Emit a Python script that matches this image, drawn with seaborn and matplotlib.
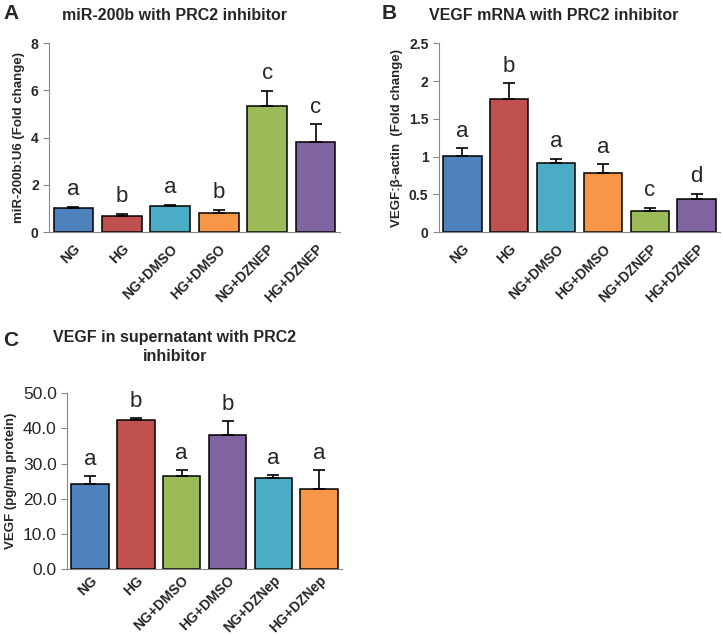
import numpy as np
import pandas as pd
import seaborn as sns
import matplotlib.pyplot as plt
from matplotlib.ticker import FixedLocator

sns.set_style('white')
plt.rcParams['font.family'] = ['Liberation Sans', 'DejaVu Sans']

# panel A: miR-200b
groups_ab = ['NG', 'HG', 'NG+DMSO', 'HG+DMSO', 'NG+DZNEP', 'HG+DZNEP']
mir_mean = [1.02, 0.69, 1.12, 0.80, 5.35, 3.83]
mir_err = [0.05, 0.08, 0.04, 0.14, 0.63, 0.73]
mir_letters = ['a', 'b', 'a', 'b', 'c', 'c']

# panel B: VEGF mRNA
vegf_mean = [1.01, 1.76, 0.91, 0.78, 0.28, 0.44]
vegf_err = [0.10, 0.21, 0.06, 0.12, 0.04, 0.065]
vegf_letters = ['a', 'b', 'a', 'a', 'c', 'd']

# panel C: VEGF protein in supernatant
groups_c = ['NG', 'HG', 'NG+DMSO', 'HG+DMSO', 'NG+DZNep', 'HG+DZNep']
sup_mean = [24.1, 42.3, 26.4, 38.2, 25.8, 22.9]
sup_err = [2.4, 0.6, 1.8, 3.9, 0.8, 5.2]
sup_letters = ['a', 'b', 'a', 'b', 'a', 'a']

blue, red, teal, orange, green, purple = '#4F81BD', '#C0504D', '#4BACC6', '#F79646', '#9BBB59', '#8064A2'
pal_ab = [blue, red, teal, orange, green, purple]
pal_c = [blue, red, green, purple, teal, orange]


def panel(ax, groups, means, errs, letters, pal, ymax, ystep, ylabel,
          tick_bold=True, fmt=None, xpad=7):
    df = pd.DataFrame({'group': groups, 'value': means})
    sns.barplot(data=df, x='group', y='value', hue='group', palette=pal,
                saturation=1, legend=False, width=0.82, edgecolor='black',
                linewidth=1.1, errorbar=None, ax=ax)
    x = np.arange(len(groups))
    ax.errorbar(x, means, yerr=[np.zeros(len(errs)), errs], fmt='none',
                ecolor='black', elinewidth=1.2, capsize=4, capthick=1.2)
    for xi, m, e, l in zip(x, means, errs, letters):
        ax.text(xi, m + e + 0.035 * ymax, l, ha='center', va='bottom', fontsize=16)
    ax.set_ylim(0, ymax)
    ax.set_xlim(-0.5, len(groups) - 0.5)
    ticks = np.arange(0, ymax + ystep / 2, ystep)
    ax.set_yticks(ticks)
    if fmt:
        ax.set_yticklabels([fmt.format(t) for t in ticks])
    else:
        ax.set_yticklabels(['{:g}'.format(t) for t in ticks])
    weight = 'bold' if tick_bold else 'normal'
    ysize = 10 if tick_bold else 12.5
    for lab in ax.get_yticklabels():
        lab.set_fontweight(weight)
        lab.set_fontsize(ysize)
    ax.set_xticks(x)
    ax.set_xticklabels(groups, rotation=45, ha='right', rotation_mode='anchor',
                       fontweight='bold', fontsize=10)
    ax.tick_params(axis='x', which='major', length=0, pad=xpad)
    ax.xaxis.set_minor_locator(FixedLocator(np.arange(-0.5, len(groups), 1.0)))
    ax.tick_params(axis='x', which='minor', length=4, color='#888888', width=0.8)
    ax.tick_params(axis='y', length=4, color='#888888', width=0.8, left=True)
    ax.set_xlabel('')
    ax.set_ylabel(ylabel, fontweight='bold', fontsize=9.5)
    for s in ['top', 'right']:
        ax.spines[s].set_visible(False)
    for s in ['left', 'bottom']:
        ax.spines[s].set_color('#888888')
        ax.spines[s].set_linewidth(0.8)


fig = plt.figure(figsize=(7.23, 6.36), dpi=100)
axA = fig.add_axes([0.068, 0.635, 0.402, 0.297])
axB = fig.add_axes([0.607, 0.635, 0.389, 0.297])
axC = fig.add_axes([0.093, 0.105, 0.380, 0.277])

panel(axA, groups_ab, mir_mean, mir_err, mir_letters, pal_ab, 8, 2,
      'miR-200b:U6 (Fold change)')
panel(axB, groups_ab, vegf_mean, vegf_err, vegf_letters, pal_ab, 2.5, 0.5,
      'VEGF:\u03b2-actin  (Fold change)')
panel(axC, groups_c, sup_mean, sup_err, sup_letters, pal_c, 50, 10,
      'VEGF (pg/mg protein)', tick_bold=False, fmt='{:.1f}', xpad=3)

fig.text(0.242, 0.975, 'miR-200b with PRC2 inhibitor', ha='center', va='center',
         fontsize=11.5, fontweight='bold')
fig.text(0.766, 0.975, 'VEGF mRNA with PRC2 inhibitor', ha='center', va='center',
         fontsize=11.5, fontweight='bold')
fig.text(0.242, 0.454, 'VEGF in supernatant with PRC2\ninhibitor', ha='center',
         va='center', fontsize=11.5, fontweight='bold', linespacing=1.3)
fig.text(0.005, 0.978, 'A', fontsize=15, fontweight='bold', va='center')
fig.text(0.528, 0.978, 'B', fontsize=15, fontweight='bold', va='center')
fig.text(0.005, 0.465, 'C', fontsize=15, fontweight='bold', va='center')

fig.savefig('out.png', dpi=100)
